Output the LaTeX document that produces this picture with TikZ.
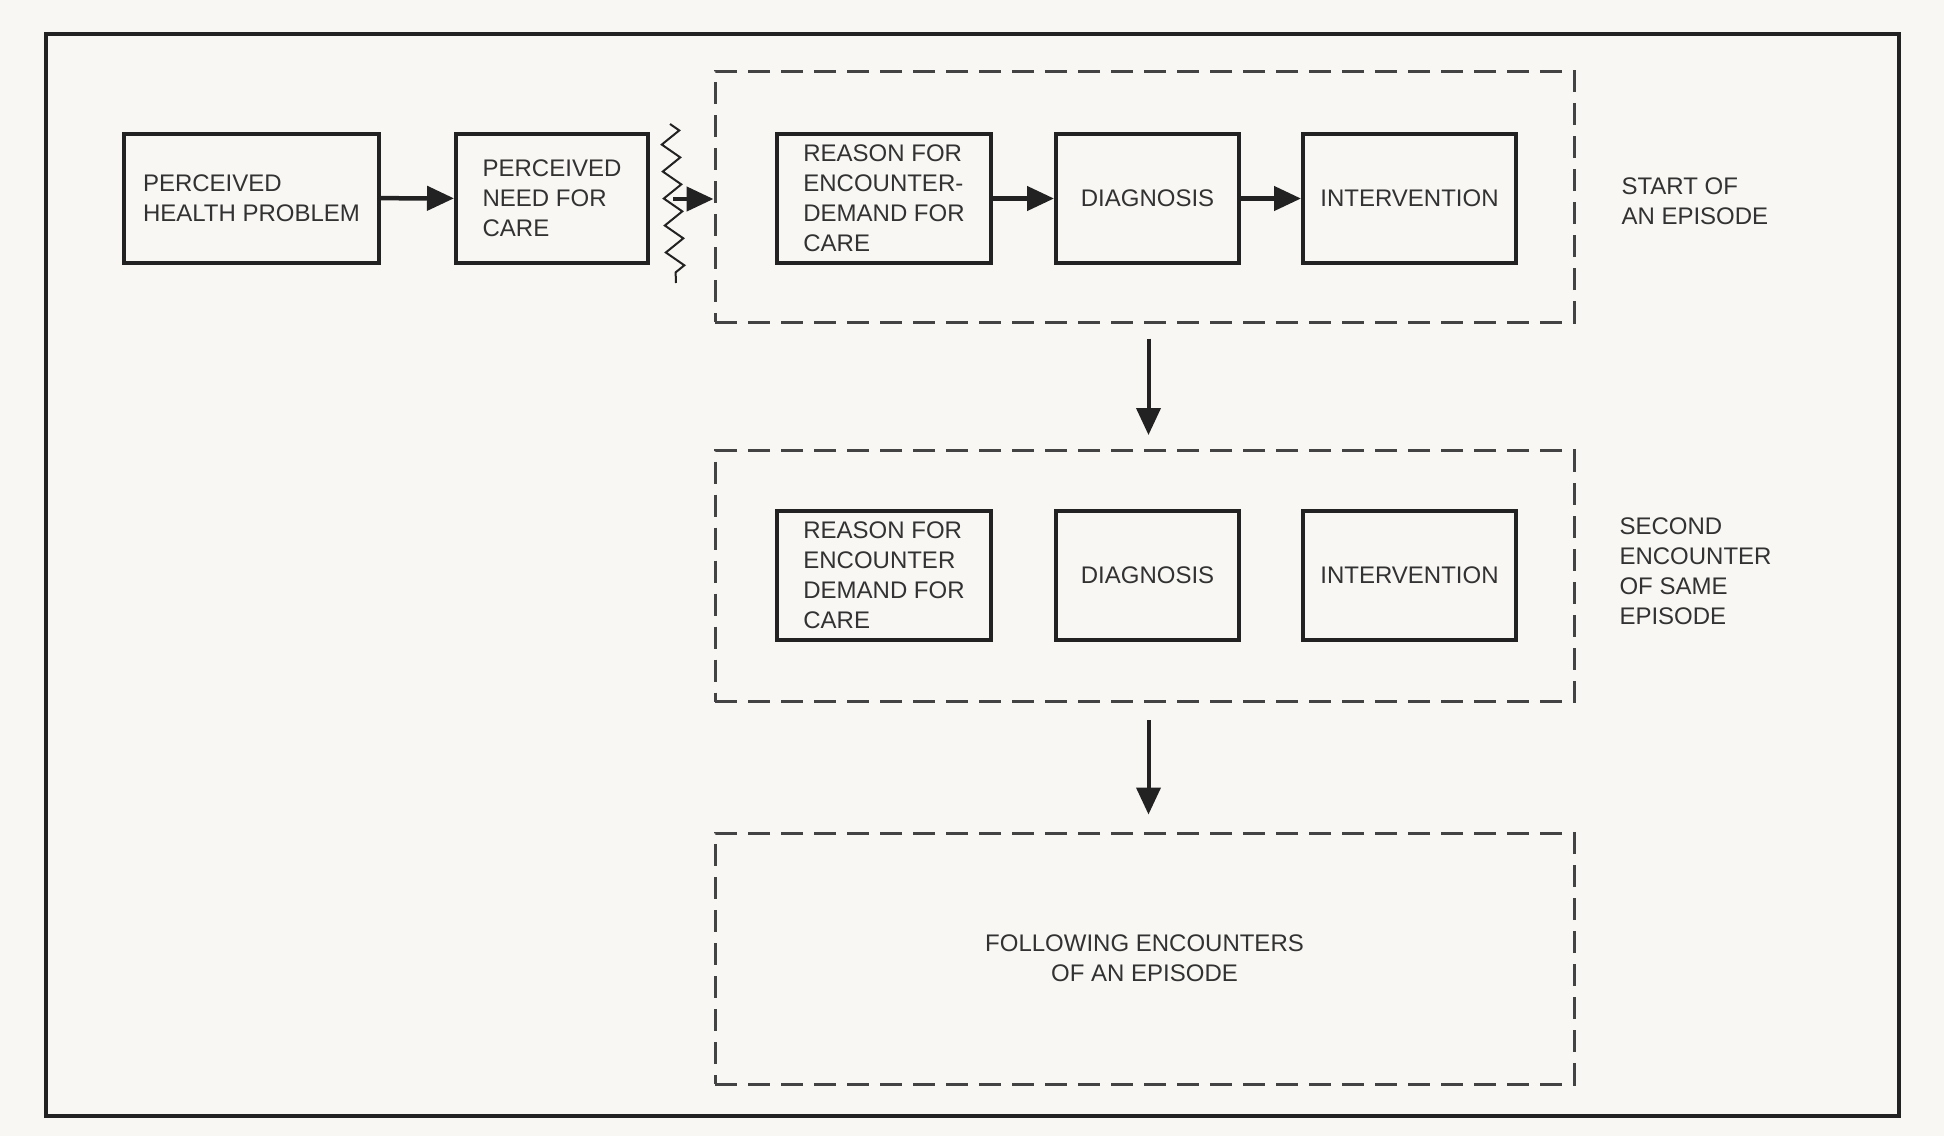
\documentclass[tikz,border=0pt]{standalone}
\usepackage{fontspec}
\setmainfont{Liberation Sans}
\usetikzlibrary{arrows.meta,decorations.pathmorphing}
\definecolor{paper}{RGB}{248,247,244}
\definecolor{ink}{RGB}{34,34,34}
\definecolor{txt}{RGB}{50,50,50}
\begin{document}
\begin{tikzpicture}[x=1pt,y=-1pt,
  lbl/.style={font=\fontsize{24}{30}\selectfont, text=txt, align=left},
  solidbox/.style={draw=ink, line width=4pt, rectangle, inner sep=0pt,
    minimum height=129pt, lbl},
  groupbox/.style={draw=ink!85, line width=3pt, dash pattern=on 22pt off 11pt,
    rectangle, inner sep=0pt, minimum width=859pt, minimum height=251pt, lbl, align=center},
  arr/.style={draw=ink, line width=4.5pt, -{Triangle[length=27pt,width=24pt]}},
  side/.style={lbl, anchor=west}]
% page and outer frame
\fill[paper] (0,0) rectangle (1944,1136);
\useasboundingbox (0,0) rectangle (1944,1136);
\draw[ink, line width=4.5pt] (46,34) rectangle (1899,1116);

% first row: before the episode
\node[solidbox, minimum width=255pt] (php) at (251.5,198) {PERCEIVED\\HEALTH PROBLEM};
\node[solidbox, minimum width=192pt] (pnc) at (552,198.5) {PERCEIVED\\NEED FOR\\CARE};

% the three encounter groups
\node[groupbox] (g1) at (1144.5,196.5) {};
\node[groupbox] (g2) at (1144.5,576) {};
\node[groupbox] (g3) at (1144.5,958.5) {FOLLOWING ENCOUNTERS\\OF AN EPISODE};

% start of an episode
\node[solidbox, minimum width=214pt] (rfe1) at (884,198.5) {REASON FOR\\ENCOUNTER-\\DEMAND FOR\\CARE};
\node[solidbox, minimum width=183pt] (dia1) at (1147.5,198.5) {DIAGNOSIS};
\node[solidbox, minimum width=213pt] (int1) at (1409.5,198.5) {INTERVENTION};
\node[side] (lab1) at (1618,201) {START OF\\AN EPISODE};

% second encounter
\node[solidbox, minimum width=214pt] (rfe2) at (884,575.5) {REASON FOR\\ENCOUNTER\\DEMAND FOR\\CARE};
\node[solidbox, minimum width=183pt] (dia2) at (1147.5,575.5) {DIAGNOSIS};
\node[solidbox, minimum width=213pt] (int2) at (1409.5,575.5) {INTERVENTION};
\node[side] (lab2) at (1616,571) {SECOND\\ENCOUNTER\\OF SAME\\EPISODE};

% threshold between need and demand
\coordinate (zt) at (670,124);
\coordinate (zb) at (676,283);
\coordinate (zm) at (673,199);
\draw[ink, line width=2pt, line join=miter,
  decorate, decoration={zigzag, segment length=27pt, amplitude=9pt}] (zt) -- (zb);

% connectors
\draw[arr] (php) -- (pnc);
\draw[arr] (zm) -- (zm -| g1.west);
\draw[arr] (rfe1) -- (dia1);
\draw[arr] (dia1) -- (int1);
\draw[arr, line width=4pt, shorten <=15pt, shorten >=14pt] ([xshift=4pt]g1.south) -- ([xshift=4pt]g2.north);
\draw[arr, line width=4pt, shorten <=17pt, shorten >=17pt] ([xshift=4pt]g2.south) -- ([xshift=4pt]g3.north);
\end{tikzpicture}
\end{document}
